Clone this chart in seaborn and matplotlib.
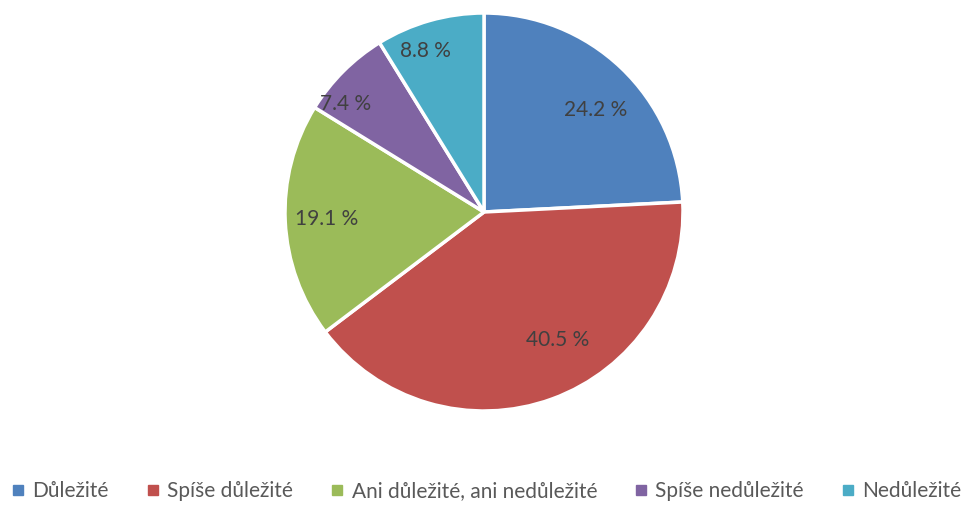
import numpy as np
import matplotlib
matplotlib.use("Agg")
import matplotlib.pyplot as plt
from matplotlib.lines import Line2D
import seaborn as sns

categories = ["Důležité", "Spíše důležité", "Ani důležité, ani nedůležité", "Spíše nedůležité", "Nedůležité"]
values = [24.2, 40.5, 19.1, 7.4, 8.8]
colors = ["#4F81BD", "#C0504D", "#9BBB59", "#8064A2", "#4BACC6"]
label_dist = [0.76, 0.74, 0.79, 0.88, 0.86]
label_shift = [-4, 10, 0, 7, 4]  # degrees

sns.set_theme(style="white")
plt.rcParams['font.family'] = ['Lato', 'DejaVu Sans']
text_color = "#404040"

fig = plt.figure(figsize=(9.71, 5.07), dpi=100)
ax = fig.add_axes([285/971, (507-411)/507, 398/971, 398/507])
wedges, _ = ax.pie(values, colors=colors, startangle=90, counterclock=False,
                   radius=1, wedgeprops=dict(edgecolor="white", linewidth=2.5))
ax.set_xlim(-1, 1)
ax.set_ylim(-1, 1)
ax.set_aspect("equal")
ax.axis("off")

for w, v, d, s in zip(wedges, values, label_dist, label_shift):
    ang = np.deg2rad((w.theta1 + w.theta2) / 2 + s)
    ax.text(d * np.cos(ang), d * np.sin(ang), f"{v:.1f} %", ha="center", va="center",
            fontsize=15, color=text_color)

handles = [Line2D([0], [0], marker="s", linestyle="", markersize=7, markerfacecolor=c,
                  markeredgecolor=c) for c in colors]
fig.legend(handles, categories, loc="lower center", bbox_to_anchor=(0.5, -0.025), ncol=5,
           frameon=False, fontsize=15, handletextpad=0.3, columnspacing=1.7,
           labelcolor="#595959", handlelength=0.8)

fig.savefig("out.png", dpi=100)
